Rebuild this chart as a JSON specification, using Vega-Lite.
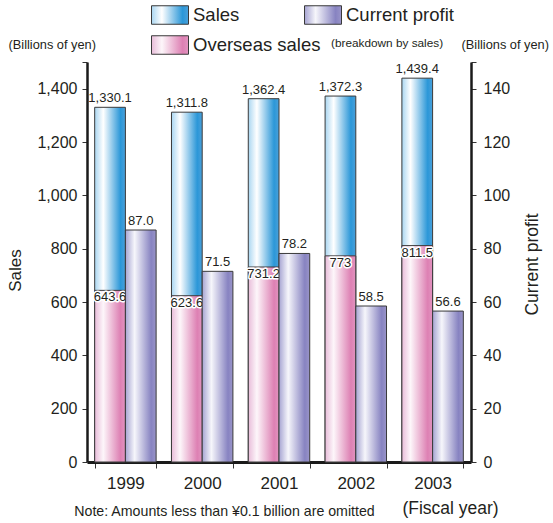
{
  "$schema": "https://vega.github.io/schema/vega-lite/v6.json",
  "width": 384,
  "height": 400,
  "autosize": "none",
  "padding": {"left": 87, "top": 62, "right": 82, "bottom": 61},
  "title": {
    "text": "(breakdown by sales)",
    "anchor": "start",
    "frame": "group",
    "orient": "top",
    "fontSize": 11.8,
    "fontWeight": "normal",
    "color": "#231f20",
    "offset": 0,
    "dx": 244,
    "dy": 54
  },
  "config": {
    "font": "Liberation Sans",
    "view": {"stroke": null},
    "axis": {
      "grid": false,
      "labelColor": "#231f20",
      "titleColor": "#231f20",
      "titleFontWeight": "normal",
      "domainColor": "#1a1a1a",
      "tickColor": "#333333"
    }
  },
  "datasets": {
    "sales": [
      {"year": "1999", "slot": "Sales", "sales": 1330.1, "overseas": 643.6},
      {"year": "2000", "slot": "Sales", "sales": 1311.8, "overseas": 623.6},
      {"year": "2001", "slot": "Sales", "sales": 1362.4, "overseas": 731.2},
      {"year": "2002", "slot": "Sales", "sales": 1372.3, "overseas": 773},
      {"year": "2003", "slot": "Sales", "sales": 1439.4, "overseas": 811.5}
    ],
    "profit": [
      {"year": "1999", "slot": "Current profit", "profit": 87.0},
      {"year": "2000", "slot": "Current profit", "profit": 71.5},
      {"year": "2001", "slot": "Current profit", "profit": 78.2},
      {"year": "2002", "slot": "Current profit", "profit": 58.5},
      {"year": "2003", "slot": "Current profit", "profit": 56.6}
    ]
  },
  "layer": [
    {
      "data": {"name": "sales"},
      "layer": [
        {
          "mark": {"type": "bar", "stroke": "#3a3a3a", "strokeWidth": 1},
          "encoding": {
            "x": {
              "field": "year", "type": "nominal",
              "scale": {"paddingInner": 0.2, "paddingOuter": 0.1},
              "axis": {
                "orient": "bottom",
                "tickBand": "extent",
                "tickSize": 6,
                "tickWidth": 1,
                "domainWidth": 3,
                "labelFontSize": 17,
                "labelAngle": 0,
                "labelPadding": 7,
                "title": "Note: Amounts less than ¥0.1 billion are omitted",
                "titleFontSize": 14.2,
                "titleX": 137,
                "titleY": 49,
                "titleAlign": "center",
                "titleBaseline": "middle",
                "encode": {"ticks": {"y2": {"value": -6}}}
              }
            },
            "xOffset": {
              "field": "slot", "type": "nominal",
              "scale": {"domain": ["Sales", "Current profit"], "paddingInner": 0, "paddingOuter": 0}
            },
            "y": {
              "field": "sales", "type": "quantitative",
              "scale": {"domain": [0, 1500], "nice": false},
              "axis": {
                "orient": "left",
                "values": [0, 200, 400, 600, 800, 1000, 1200, 1400, 1500],
                "labelExpr": "datum.value >= 1500 ? '' : format(datum.value, ',')",
                "tickSize": 5,
                "tickWidth": 1,
                "domainWidth": 2.5,
                "labelFontSize": 16,
                "labelPadding": 5,
                "title": "Sales",
                "titleFontSize": 17,
                "titleAngle": 270,
                "titleX": -72,
                "titleY": 208,
                "titleAlign": "center",
                "titleBaseline": "middle",
                "encode": {"ticks": {"x2": {"value": 5}}}
              }
            },
            "color": {
              "datum": "Sales",
              "type": "nominal",
              "scale": {
                "domain": ["Sales", "Current profit", "Overseas sales"],
                "range": [
                  {"expr": "{gradient:'linear',x1:0,y1:0,x2:1,y2:0,stops:[{offset:0,color:'#a9d6f1'},{offset:0.28,color:'#ffffff'},{offset:0.84,color:'#2b97d8'},{offset:1,color:'#4aa0da'}]}"},
                  {"expr": "{gradient:'linear',x1:0,y1:0,x2:1,y2:0,stops:[{offset:0,color:'#a6a4d2'},{offset:0.3,color:'#f6f6fb'},{offset:0.84,color:'#8783c1'},{offset:1,color:'#9a95c9'}]}"},
                  {"expr": "{gradient:'linear',x1:0,y1:0,x2:1,y2:0,stops:[{offset:0,color:'#e8bcd9'},{offset:0.28,color:'#fdf6fa'},{offset:0.84,color:'#dd80b3'},{offset:1,color:'#e294c0'}]}"}
                ]
              },
              "legend": {
                "orient": "none",
                "legendX": 64,
                "legendY": -66,
                "direction": "horizontal",
                "columns": 2,
                "gridAlign": "none",
                "columnPadding": -19,
                "rowPadding": -1,
                "title": null,
                "symbolType": "M-1,-0.5H1V0.5H-1Z",
                "symbolSize": 1369,
                "symbolStrokeColor": "#555555",
                "symbolStrokeWidth": 1,
                "labelFontSize": 18.5,
                "labelOffset": 4,
                "labelColor": "#231f20",
                "labelLimit": 300
              }
            }
          }
        },
        {
          "mark": {"type": "bar", "stroke": "#3a3a3a", "strokeWidth": 1},
          "encoding": {
            "x": {
              "field": "year", "type": "nominal",
              "scale": {"paddingInner": 0.2, "paddingOuter": 0.1},
              "axis": {
                "orient": "top",
                "domain": false,
                "ticks": false,
                "labels": false,
                "title": "(Billions of yen)",
                "titleFontSize": 12.8,
                "titleX": -79,
                "titleY": -18,
                "titleAlign": "left",
                "titleBaseline": "middle",
                "titleAngle": 0
              }
            },
            "xOffset": {"field": "slot", "type": "nominal"},
            "y": {"field": "overseas", "type": "quantitative"},
            "color": {"datum": "Overseas sales", "type": "nominal"}
          }
        },
        {
          "mark": {"type": "text", "baseline": "bottom", "dy": -2, "fontSize": 13, "color": "#231f20"},
          "encoding": {
            "x": {"field": "year", "type": "nominal", "axis": null},
            "xOffset": {"field": "slot", "type": "nominal"},
            "y": {"field": "sales", "type": "quantitative"},
            "text": {"field": "sales", "type": "quantitative", "format": ",.1~f"}
          }
        },
        {
          "mark": {"type": "text", "baseline": "top", "dy": 1, "fontSize": 13, "color": "#ffffff", "stroke": "#ffffff", "strokeWidth": 3, "strokeJoin": "round"},
          "encoding": {
            "x": {"field": "year", "type": "nominal", "axis": null},
            "xOffset": {"field": "slot", "type": "nominal"},
            "y": {"field": "overseas", "type": "quantitative"},
            "text": {"field": "overseas", "type": "quantitative", "format": ",.1~f"}
          }
        },
        {
          "mark": {"type": "text", "baseline": "top", "dy": 1, "fontSize": 13, "color": "#231f20"},
          "encoding": {
            "x": {"field": "year", "type": "nominal", "axis": null},
            "xOffset": {"field": "slot", "type": "nominal"},
            "y": {"field": "overseas", "type": "quantitative"},
            "text": {"field": "overseas", "type": "quantitative", "format": ",.1~f"}
          }
        }
      ]
    },
    {
      "data": {"name": "profit"},
      "layer": [
        {
          "mark": {"type": "bar", "stroke": "#3a3a3a", "strokeWidth": 1},
          "encoding": {
            "x": {
              "field": "year", "type": "nominal",
              "scale": {"paddingInner": 0.2, "paddingOuter": 0.1},
              "axis": {
                "orient": "bottom",
                "domain": false,
                "ticks": false,
                "labels": false,
                "title": "(Fiscal year)",
                "titleFontSize": 17.5,
                "titleX": 363,
                "titleY": 46,
                "titleAlign": "center",
                "titleBaseline": "middle"
              }
            },
            "xOffset": {"field": "slot", "type": "nominal"},
            "y": {
              "field": "profit", "type": "quantitative",
              "scale": {"domain": [0, 150], "nice": false},
              "axis": {
                "orient": "right",
                "values": [0, 20, 40, 60, 80, 100, 120, 140, 150],
                "labelExpr": "datum.value >= 150 ? '' : format(datum.value, 'd')",
                "tickSize": 5,
                "tickWidth": 1,
                "domainWidth": 2.5,
                "labelFontSize": 16,
                "labelPadding": 7,
                "title": "Current profit",
                "titleFontSize": 17.5,
                "titleAngle": 270,
                "titleX": 61,
                "titleY": 202,
                "titleAlign": "center",
                "titleBaseline": "middle",
                "encode": {"ticks": {"x2": {"value": -5}}}
              }
            },
            "color": {"datum": "Current profit", "type": "nominal"}
          }
        },
        {
          "mark": {"type": "text", "baseline": "bottom", "dy": -2, "fontSize": 13, "color": "#ffffff", "stroke": "#ffffff", "strokeWidth": 3, "strokeJoin": "round"},
          "encoding": {
            "x": {"field": "year", "type": "nominal", "axis": null},
            "xOffset": {"field": "slot", "type": "nominal"},
            "y": {"field": "profit", "type": "quantitative"},
            "text": {"field": "profit", "type": "quantitative", "format": ".1f"}
          }
        },
        {
          "mark": {"type": "text", "baseline": "bottom", "dy": -2, "fontSize": 13, "color": "#231f20"},
          "encoding": {
            "x": {
              "field": "year", "type": "nominal",
              "axis": {
                "orient": "top",
                "domain": false,
                "ticks": false,
                "labels": false,
                "title": "(Billions of yen)",
                "titleFontSize": 12.8,
                "titleX": 374,
                "titleY": -18,
                "titleAlign": "left",
                "titleBaseline": "middle",
                "titleAngle": 0
              }
            },
            "xOffset": {"field": "slot", "type": "nominal"},
            "y": {"field": "profit", "type": "quantitative"},
            "text": {"field": "profit", "type": "quantitative", "format": ".1f"}
          }
        }
      ]
    }
  ],
  "resolve": {
    "scale": {"y": "independent"},
    "axis": {"x": "independent", "y": "independent"}
  }
}
